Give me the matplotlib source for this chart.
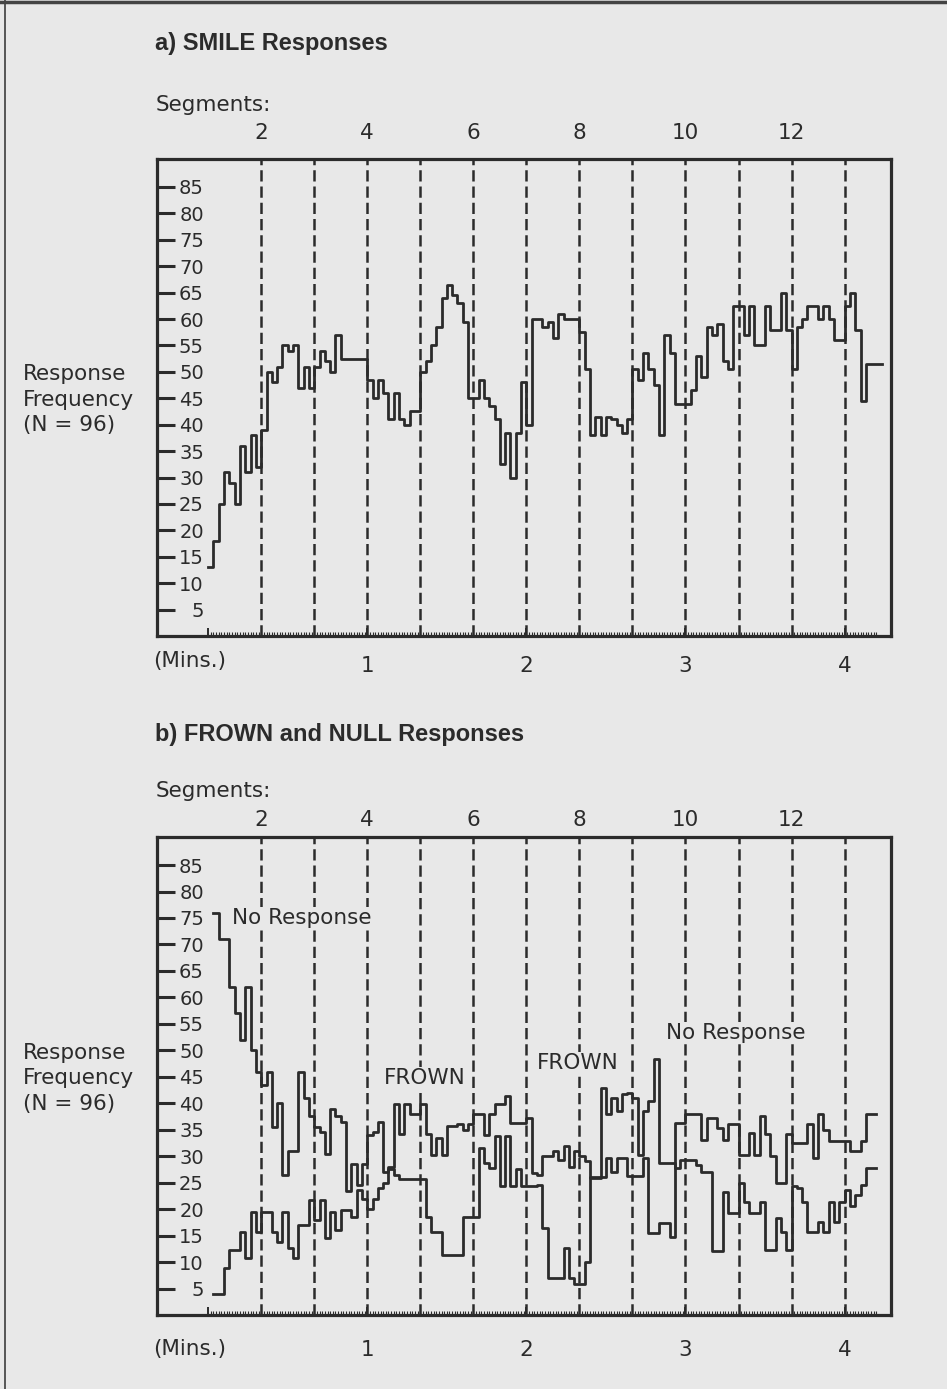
import numpy as np
import matplotlib
matplotlib.use('Agg')
import matplotlib.pyplot as plt
from matplotlib.lines import Line2D
from matplotlib.ticker import FixedLocator

# ---------------- data (2-second samples) ----------------
SAMPLE_SEC = 2
SMILE_START = 0
BOTTOM_START = 2

smile = [13, 18, 25, 31, 29, 25, 36, 31, 38, 32,
         39, 50, 48, 51, 55, 54, 55, 47, 51, 47,
         51, 54, 52, 50, 57, 52.5, 52.5, 52.5, 52.5, 52.5,
         48.5, 45, 48.5, 46, 41, 46, 41, 40, 42.5, 42.5,
         50, 52, 55, 58.5, 64, 66.5, 64.5, 63, 59.5, 45,
         45, 48.5, 45, 43.5, 41, 32.5, 38.5, 30, 38.5, 48,
         40, 60, 60, 58.5, 59.5, 56.5, 61, 60, 60, 60,
         57.5, 50.5, 38, 41.5, 38, 41.5, 41, 40, 38.5, 41,
         50.5, 48.5, 53.5, 50.5, 47.5, 38, 57, 53.5, 44, 44,
         44, 46.5, 53, 49, 58.5, 57, 59, 52, 50.5, 62.5,
         62.5, 57, 62.5, 55, 55, 62.5, 58, 58, 65, 58,
         50.5, 58.5, 60, 62.5, 62.5, 60, 62.5, 60, 56, 56,
         62.5, 65, 58, 44.5, 51.5, 51.5, 51.5]

null = [76, 71, 71, 62, 57, 52, 62, 50, 46, 43.5,
        46, 35.5, 40, 26.5, 31, 31, 46, 41, 37.5, 35.5,
        34.5, 30.5, 39, 37.5, 36.5, 23.5, 28.5, 24.5, 28.5, 34,
        34.5, 36.5, 27, 27.5, 26.5, 25.6, 25.6, 25.6, 25.6, 25.6,
        18.6, 15.7, 15.7, 11.3, 11.3, 11.3, 11.3, 18.6, 18.6, 18.6,
        31.6, 28.7, 27.8, 33.8, 24.3, 33.8, 24.3, 27.5, 24.3, 24.3,
        24.3, 24.6, 16.4, 6.9, 6.9, 6.9, 12.6, 7, 5.9, 5.9,
        10, 26, 26, 26, 29.7, 27, 29.7, 29.7, 26.2, 26.2,
        26.2, 29.7, 15.4, 15.4, 17.3, 17.3, 14.8, 36.3, 36.3, 37.9,
        37.9, 37.9, 33, 37.3, 37.3, 35.4, 33.1, 36, 36, 30.3,
        30.3, 34.4, 30.3, 37.6, 34.1, 30, 24.9, 24.9, 34.1, 32.5,
        32.5, 32.5, 36, 29.7, 37.9, 35, 32.8, 32.8, 32.8, 32.8,
        31, 31, 32.8, 37.9, 37.9]

frown = [4, 4, 8.8, 12.3, 12.3, 15.7, 10.7, 19.5, 15.7, 19.5,
         19.5, 15.7, 13.8, 19.5, 12.6, 10.7, 17, 17, 21.8, 18,
         21.8, 14.5, 19.5, 16, 19.8, 19.8, 18.6, 23.7, 22, 20,
         22, 24, 25, 28, 39.8, 34.1, 39.8, 37.9, 37.9, 39.8,
         34.1, 30.3, 33.5, 30.3, 35.7, 35.7, 36, 35, 36, 37.9,
         37.9, 34, 37.9, 39.8, 39.8, 41.4, 36.3, 36.3, 36.3, 37.3,
         26.8, 26.5, 30, 30, 31, 29.3, 31.9, 28, 31, 30,
         29, 25.9, 25.9, 42.9, 37.9, 41, 38.5, 41.7, 42, 41,
         30.3, 38.5, 40.4, 48.3, 28.7, 28.7, 28.7, 27.8, 29.3, 29.3,
         29.3, 28.4, 27.1, 27.1, 12, 12, 23.3, 19.2, 19.2, 24.9,
         21.4, 19.2, 19.2, 21.4, 12.3, 12.3, 18.3, 15.7, 12.3, 24.3,
         24, 21.4, 15.7, 15.7, 17.6, 15.7, 21.4, 17.6, 21.4, 23.7,
         20.5, 22.7, 24.6, 27.8, 27.8]

y_ticks = list(range(5, 90, 5))
segment_bounds = list(range(20, 241, 20))
segment_pos = [20, 60, 100, 140, 180, 220]
segment_labels = ['2', '4', '6', '8', '10', '12']
minute_pos = [60, 120, 180, 240]
minute_labels = ['1', '2', '3', '4']

# ---------------- style ----------------
BG = '#e8e8e8'
INK = '#2b2b2b'
W, H = 947, 1389
FONT = ['DejaVu Sans']
TITLE_FONT = ['Liberation Sans', 'DejaVu Sans']
plt.rcParams['font.family'] = FONT

fig = plt.figure(figsize=(W / 100, H / 100), dpi=100, facecolor=BG)


def px_axes(x0, y0, x1, y1):
    return fig.add_axes([x0 / W, 1 - y1 / H, (x1 - x0) / W, (y1 - y0) / H])


def setup(ax, bottom_pad, top_pad):
    ax.set_facecolor(BG)
    ax.set_xlim(-19.3, 257.5)
    ax.set_ylim(0, 90.3)
    for s in ax.spines.values():
        s.set_linewidth(2.3)
        s.set_color(INK)
    ax.set_yticks(y_ticks)
    ax.tick_params(axis='y', direction='in', length=13, width=2.2, pad=-33.8,
                   labelsize=14, colors=INK, labelcolor=INK)
    ax.set_xticks([0] + minute_pos)
    ax.set_xticklabels([''] + minute_labels)
    ax.tick_params(axis='x', which='major', direction='in', length=6, width=1.4,
                   pad=bottom_pad, labelsize=15.5, colors=INK)
    ax.xaxis.set_minor_locator(FixedLocator(np.arange(0, 253, 1)))
    ax.tick_params(axis='x', which='minor', direction='in', length=2.6, width=0.8, colors=INK)
    for b in segment_bounds:
        ax.axvline(b, color=INK, lw=1.8, ls=(0, (4.5, 2.0)), zorder=1)
    sec = ax.secondary_xaxis('top')
    sec.set_xticks(segment_pos)
    sec.set_xticklabels(segment_labels)
    sec.tick_params(length=0, pad=top_pad, labelsize=15.5, colors=INK)
    sec.spines['top'].set_visible(False)
    ax.text(-0.1826, 44.7, 'Response\nFrequency\n(N = 96)', transform=ax.get_yaxis_transform(),
            ha='left', va='center', fontsize=15.5, color=INK, linespacing=1.35)


def steps(ax, vals, t0):
    v = np.asarray(vals, float)
    t = t0 + SAMPLE_SEC * np.arange(len(v) + 1)
    ax.step(t, np.append(v, v[-1]), where='post', color=INK, lw=2.0, zorder=3)


# ---------- panel a ----------
ax1 = px_axes(157, 159, 891, 636)
setup(ax1, bottom_pad=14.4, top_pad=11.5)
steps(ax1, smile, SMILE_START)

# ---------- panel b ----------
ax2 = px_axes(157, 837, 891, 1315)
setup(ax2, bottom_pad=18, top_pad=5)
steps(ax2, null, BOTTOM_START)
steps(ax2, frown, BOTTOM_START)

box = dict(facecolor=BG, edgecolor='none', pad=0.5)
ax2.text(8.8, 75, 'No Response', ha='left', va='center', fontsize=15.5, color=INK, bbox=box, zorder=4)
ax2.text(66.2, 44.8, 'FROWN', ha='left', va='center', fontsize=15.5, color=INK, bbox=box, zorder=4)
ax2.text(124, 47.7, 'FROWN', ha='left', va='center', fontsize=15.5, color=INK, bbox=box, zorder=4)
ax2.text(172.5, 53.3, 'No Response', ha='left', va='center', fontsize=15.5, color=INK, bbox=box, zorder=4)

# ---------- figure texts ----------
fig.text(155 / W, 1 - 43.5 / H, 'a) SMILE Responses', family=TITLE_FONT, weight='bold',
         fontsize=17, va='center', ha='left', color=INK)
fig.text(156 / W, 1 - 105 / H, 'Segments:', fontsize=15.5, va='center', ha='left', color=INK)
fig.text(153 / W, 1 - 661 / H, '(Mins.)', fontsize=15.5, va='center', ha='left', color=INK)

fig.text(155 / W, 1 - 734 / H, 'b) FROWN and NULL Responses', family=TITLE_FONT, weight='bold',
         fontsize=17, va='center', ha='left', color=INK)
fig.text(156 / W, 1 - 791 / H, 'Segments:', fontsize=15.5, va='center', ha='left', color=INK)
fig.text(153 / W, 1 - 1349 / H, '(Mins.)', fontsize=15.5, va='center', ha='left', color=INK)

# page border
fig.add_artist(Line2D([5 / W, 5 / W], [0, 1], transform=fig.transFigure, color='#555555', lw=1.4))
fig.add_artist(Line2D([0, 1], [1 - 1.5 / H, 1 - 1.5 / H], transform=fig.transFigure, color='#444444', lw=2.5))

fig.savefig('out.png', dpi=100, facecolor=BG)
